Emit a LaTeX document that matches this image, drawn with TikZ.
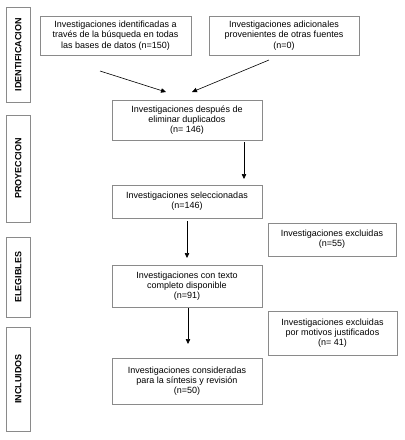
\documentclass[tikz,border=0pt]{standalone}
\usepackage{fontspec}
\setmainfont{Liberation Sans}
\usetikzlibrary{arrows.meta}
\definecolor{boxgray}{HTML}{8A8A8A}
\begin{document}
\begin{tikzpicture}[x=1pt,y=-1pt,
  box/.style={draw=boxgray,line width=0.8pt,rectangle,align=center,inner sep=0pt,
    font=\fontsize{9}{10.3}\selectfont,text=black},
  phase/.style={draw=boxgray,line width=0.8pt,rectangle,inner sep=0pt,minimum width=24.7pt},
  phaselabel/.style={rotate=90,font=\fontsize{9}{10}\selectfont\bfseries,inner sep=0pt},
  arr/.style={draw=black,line width=0.6pt,-{Triangle[length=5pt,width=4.5pt]}}]
\useasboundingbox (0,0) rectangle (405,440);
\fill[white] (0,0) rectangle (405,440);
% phase boxes
\node[phase,minimum height=95pt] (p1) at (18.3,54.5) {};
\node[phaselabel] (l1) at (p1.center) {IDENTIFICACION};
\node[phase,minimum height=107pt] (p2) at (18.3,168.5) {};
\node[phaselabel] (l2) at (p2.center) {PROYECCION};
\node[phase,minimum height=80pt] (p3) at (18.3,277) {};
\node[phaselabel] (l3) at (p3.center) {ELEGIBLES};
\node[phase,minimum height=104pt] (p4) at (18.3,379) {};
\node[phaselabel] (l4) at (p4.center) {INCLUIDOS};
% flow boxes
\node[box,minimum width=151pt,minimum height=39pt] (b1) at (115.5,35.5)
  {Investigaciones identificadas a\\través de la búsqueda en todas\\las bases de datos (n=150)};
\node[box,minimum width=150pt,minimum height=39pt] (b2) at (284,35.5)
  {Investigaciones adicionales\\provenientes de otras fuentes\\(n=0)};
\node[box,minimum width=150pt,minimum height=40pt] (b3) at (187,120)
  {Investigaciones después de\\eliminar duplicados\\(n= 146)};
\node[box,minimum width=150pt,minimum height=33pt] (b4) at (187,201.5)
  {Investigaciones seleccionadas\\(n=146)};
\node[box,minimum width=150pt,minimum height=42pt] (b5) at (187,286)
  {Investigaciones con texto\\completo disponible\\(n=91)};
\node[box,minimum width=150pt,minimum height=46pt] (b6) at (187,381)
  {Investigaciones consideradas\\para la síntesis y revisión\\(n=50)};
\node[box,minimum width=128pt,minimum height=33pt] (e1) at (332,239.5)
  {Investigaciones excluidas\\(n=55)};
\node[box,minimum width=129pt,minimum height=44pt] (e2) at (332.5,333)
  {Investigaciones excluidas\\por motivos justificados\\(n= 41)};
% arrow end points
\coordinate (a1s) at (100,71);
\coordinate (a1e) at (166,92);
\coordinate (a2s) at (269,60);
\coordinate (a2e) at (192,92);
\coordinate (a3s) at (244,142);
\coordinate (a3e) at (244,179);
\coordinate (a4s) at (187,221);
\coordinate (a4e) at (187,258);
\coordinate (a5s) at (188,308);
\coordinate (a5e) at (188,344);
\draw[arr] (a1s) -- (a1e);
\draw[arr] (a2s) -- (a2e);
\draw[arr] (a3s) -- (a3e);
\draw[arr] (a4s) -- (a4e);
\draw[arr] (a5s) -- (a5e);
\end{tikzpicture}
\end{document}
